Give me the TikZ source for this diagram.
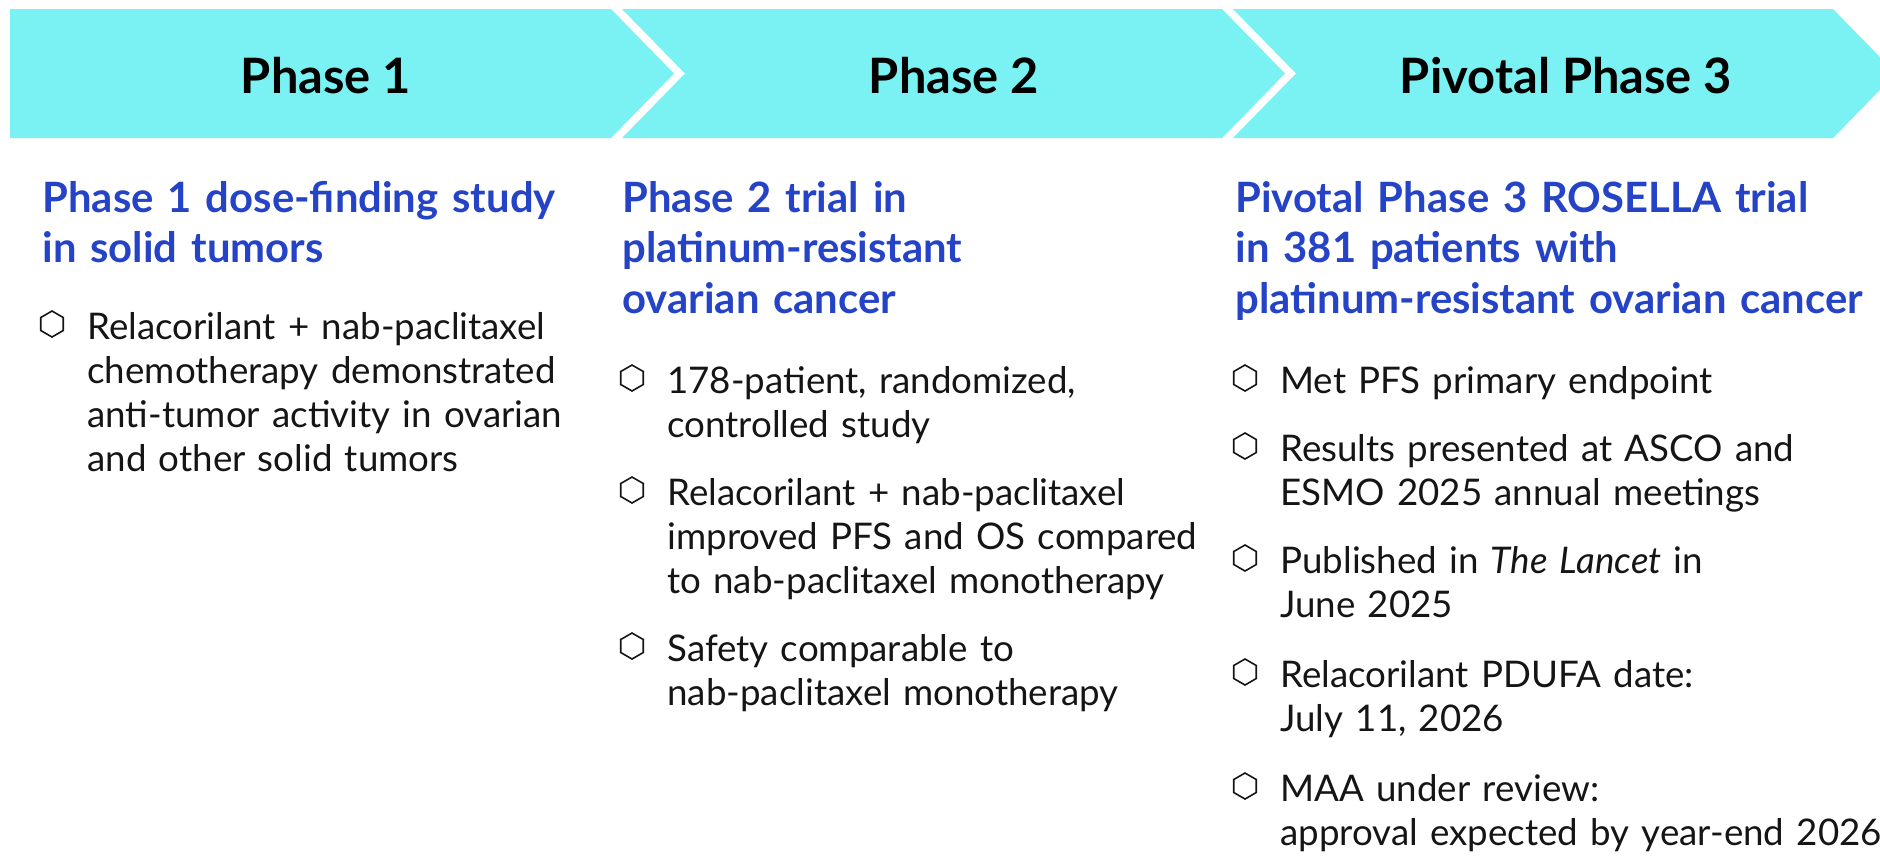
\documentclass[tikz,border=0pt]{standalone}
\usepackage{fontspec}
\setmainfont{Lato}
\usetikzlibrary{shapes.geometric}

\definecolor{barcyan}{HTML}{7AF1F2}
\definecolor{trialblue}{HTML}{2543C6}
\definecolor{bodyblack}{HTML}{151515}

\tikzset{
	phasebar/.style={fill=barcyan, draw=none},
	phasetitle/.style={anchor=base, inner sep=0pt, text=black, font=\fontsize{24.4}{29}\selectfont\bfseries},
	trialhead/.style={anchor=base west, inner sep=0pt, text width=330pt, align=left, text=trialblue, font=\fontsize{20.9}{25.4}\selectfont\bfseries},
	hexbullet/.style={regular polygon, regular polygon sides=6, rotate=30, draw=bodyblack, line width=0.8pt, minimum size=13pt, inner sep=0pt},
	bullettext/.style={anchor=base west, inner sep=0pt, text width=330pt, align=left, text=bodyblack, font=\fontsize{18.35}{22}\selectfont},
}

\begin{document}
\begin{tikzpicture}[x=0.5pt, y=-0.5pt]
	\useasboundingbox (0,0) rectangle (1880,859);
	\clip (0,0) rectangle (1880,859);
	% chevron bar
	\fill[phasebar] (10,9) -- (611,9) -- (674,73.5) -- (611,138) -- (10,138) -- cycle;
	\fill[phasebar] (622,9) -- (1222,9) -- (1285,73.5) -- (1222,138) -- (622,138) -- (685,73.5) -- cycle;
	\fill[phasebar] (1233,9) -- (1833,9) -- (1896,73.5) -- (1833,138) -- (1233,138) -- (1296,73.5) -- cycle;
	\node[phasetitle] (title1) at (326,93) {Phase 1};
	\node[phasetitle] (title2) at (954,93) {Phase 2};
	\node[phasetitle] (title3) at (1566,93) {Pivotal Phase 3};

	% Phase 1 column
	\node[trialhead] (head1) at (42,212) {Phase 1 dose-finding study\\in solid tumors};
	\node[hexbullet] (hex1a) at (52,324) {};
	\node[bullettext] (item1a) at (87,339) {Relacorilant + nab-paclitaxel\\chemotherapy demonstrated\\anti-tumor activity in ovarian\\and other solid tumors};

	% Phase 2 column
	\node[trialhead] (head2) at (622,212) {Phase 2 trial in\\platinum-resistant\\ovarian cancer};
	\node[hexbullet] (hex2a) at (632,378) {};
	\node[bullettext] (item2a) at (667,393) {178-patient, randomized,\\controlled study};
	\node[hexbullet] (hex2b) at (632,490) {};
	\node[bullettext] (item2b) at (667,505) {Relacorilant + nab-paclitaxel\\improved PFS and OS compared\\to nab-paclitaxel monotherapy};
	\node[hexbullet] (hex2c) at (632,646) {};
	\node[bullettext] (item2c) at (667,661) {Safety comparable to\\nab-paclitaxel monotherapy};

	% Pivotal Phase 3 column
	\node[trialhead] (head3) at (1235,212) {Pivotal Phase 3 ROSELLA trial\\in 381 patients with\\platinum-resistant ovarian cancer};
	\node[hexbullet] (hex3a) at (1245,378) {};
	\node[bullettext] (item3a) at (1280,393) {Met PFS primary endpoint};
	\node[hexbullet] (hex3b) at (1245,446) {};
	\node[bullettext] (item3b) at (1280,461) {Results presented at ASCO and\\ESMO 2025 annual meetings};
	\node[hexbullet] (hex3c) at (1245,558) {};
	\node[bullettext] (item3c) at (1280,573) {Published in \emph{The Lancet} in\\June 2025};
	\node[hexbullet] (hex3d) at (1245,672) {};
	\node[bullettext] (item3d) at (1280,687) {Relacorilant PDUFA date:\\July 11, 2026};
	\node[hexbullet] (hex3e) at (1245,786) {};
	\node[bullettext] (item3e) at (1280,801) {MAA under review:\\approval expected by year-end 2026};
\end{tikzpicture}
\end{document}
